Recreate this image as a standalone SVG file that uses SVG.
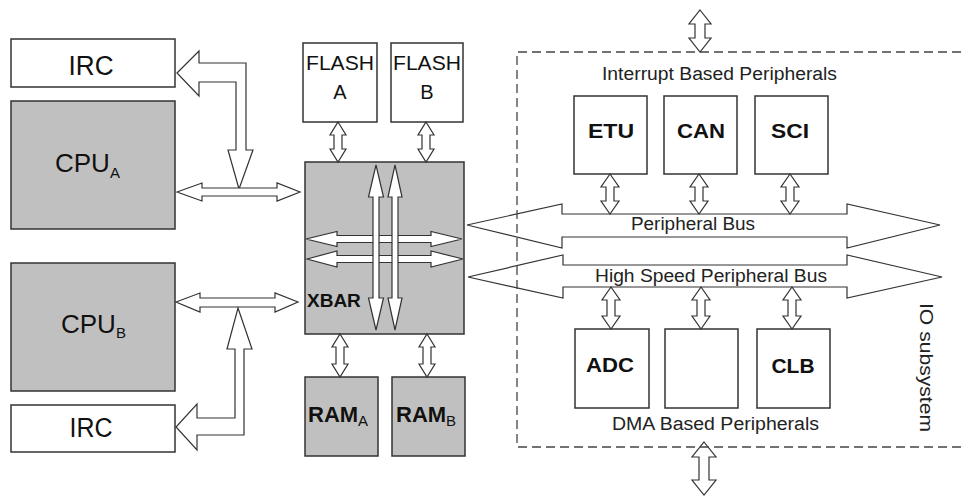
<svg xmlns="http://www.w3.org/2000/svg" width="961" height="498" viewBox="0 0 961 498">
<style>
  .w { fill: #ffffff; stroke: #333333; stroke-width: 1.5; }
  .g { fill: #c0c0c0; stroke: #333333; stroke-width: 1.5; }
  .arr { fill: #ffffff; stroke: #333333; stroke-width: 1.2; stroke-linejoin: miter; }
  .bus { fill: none; stroke: #333333; stroke-width: 1.2; }
  .dash { fill: none; stroke: #444444; stroke-width: 1.3; stroke-dasharray: 9 5; }
  text { font-family: "Liberation Sans", Arial, sans-serif; fill: #111111; }
  .big { font-size: 27px; }
  .cpu { font-size: 26px; }
  .sub { font-size: 15px; font-weight: normal; }
  .fl { font-size: 20px; }
  .bold { font-size: 21px; font-weight: bold; }
  .ram { font-size: 22px; font-weight: bold; }
  .xb { font-size: 19px; font-weight: bold; }
  .lbl { font-size: 18px; fill: #222222; }
</style>

<g id="irc-top">
  <rect class="w" x="11" y="39" width="164" height="48"/>
  <text class="big" x="91" y="75" text-anchor="middle" textLength="45" lengthAdjust="spacingAndGlyphs">IRC</text>
</g>
<g id="cpu-a">
  <rect class="g" x="11" y="101" width="164" height="128"/>
  <text class="cpu" x="55" y="172">CPU<tspan class="sub" dy="6">A</tspan></text>
</g>
<g id="cpu-b">
  <rect class="g" x="11" y="263" width="164" height="128"/>
  <text class="cpu" x="61" y="333">CPU<tspan class="sub" dy="5">B</tspan></text>
</g>
<g id="irc-bottom">
  <rect class="w" x="11" y="405" width="164" height="47"/>
  <text class="big" x="91" y="437" text-anchor="middle" textLength="43" lengthAdjust="spacingAndGlyphs">IRC</text>
</g>

<g id="flash-a">
  <rect class="w" x="303" y="43" width="74" height="79"/>
  <text class="fl" x="340" y="70" text-anchor="middle" textLength="68" lengthAdjust="spacingAndGlyphs">FLASH</text>
  <text class="fl" x="340" y="99" text-anchor="middle">A</text>
</g>
<g id="flash-b">
  <rect class="w" x="391" y="43" width="72" height="79"/>
  <text class="fl" x="427" y="70" text-anchor="middle" textLength="68" lengthAdjust="spacingAndGlyphs">FLASH</text>
  <text class="fl" x="427" y="99" text-anchor="middle">B</text>
</g>
<g id="xbar">
  <rect class="g" x="305" y="162" width="159" height="172"/>
  <text class="xb" x="307" y="307">XBAR</text>
</g>
<g id="ram-a">
  <rect class="g" x="305" y="377" width="73" height="79"/>
  <text class="ram" x="308" y="422">RAM<tspan class="sub" dy="4">A</tspan></text>
</g>
<g id="ram-b">
  <rect class="g" x="392" y="377" width="73" height="79"/>
  <text class="ram" x="396" y="422">RAM<tspan class="sub" dy="4">B</tspan></text>
</g>

<g id="io-labels">
  <text class="lbl" x="602" y="80" textLength="235" lengthAdjust="spacingAndGlyphs">Interrupt Based Peripherals</text>
  <text class="lbl" x="612" y="430" textLength="207" lengthAdjust="spacingAndGlyphs">DMA Based Peripherals</text>
  <text class="lbl" transform="translate(920,303) rotate(90)" font-size="21" textLength="129" lengthAdjust="spacingAndGlyphs">IO subsystem</text>
</g>
<g id="etu">
  <rect class="w" x="574" y="96" width="73" height="78"/>
  <text class="bold" x="611" y="138" text-anchor="middle" textLength="46" lengthAdjust="spacingAndGlyphs">ETU</text>
</g>
<g id="can">
  <rect class="w" x="664" y="96" width="73" height="78"/>
  <text class="bold" x="701" y="138" text-anchor="middle" textLength="48" lengthAdjust="spacingAndGlyphs">CAN</text>
</g>
<g id="sci">
  <rect class="w" x="755" y="96" width="73" height="78"/>
  <text class="bold" x="790" y="138" text-anchor="middle" textLength="38" lengthAdjust="spacingAndGlyphs">SCI</text>
</g>
<g id="adc">
  <rect class="w" x="575" y="329" width="74" height="79"/>
  <text class="bold" x="610" y="372" text-anchor="middle" textLength="48" lengthAdjust="spacingAndGlyphs">ADC</text>
</g>
<g id="blank">
  <rect class="w" x="665" y="329" width="73" height="79"/>
</g>
<g id="clb">
  <rect class="w" x="757" y="329" width="73" height="79"/>
  <text class="bold" x="793" y="373" text-anchor="middle" textLength="43" lengthAdjust="spacingAndGlyphs">CLB</text>
</g>

<g id="connectors">
  <!-- IRC top to CPU_A bus -->
  <polygon class="arr" points="177,73 199,51 199,63 246,63 246,150 253,150 239,189 228,150 236,150 236,82 199,82 199,96"/>
  <!-- CPU_A <-> XBAR -->
  <polygon class="arr" points="177,192 202,183 202,188 277,188 277,183 300,192 277,201 277,196 202,196 202,201"/>
  <!-- CPU_B <-> XBAR -->
  <polygon class="arr" points="176,302 200,293 200,298 275,298 275,293 298,302 275,312 275,307 200,307 200,312"/>
  <!-- IRC bottom to CPU_B bus -->
  <polygon class="arr" points="238,308 252,349 244,349 244,435 197,435 197,450 176,427 197,404 197,418 235,418 235,349 227,349"/>

  <!-- FLASH / RAM small arrows -->
  <polygon class="arr" points="338,122 346,135 342,135 342,149 346,149 338,162 330,149 334,149 334,135 330,135"/>
  <polygon class="arr" points="426,122 434,135 430,135 430,149 434,149 426,162 418,149 422,149 422,135 418,135"/>
  <polygon class="arr" points="340,334 348,347 344,347 344,364 348,364 340,377 332,364 336,364 336,347 332,347"/>
  <polygon class="arr" points="427,334 435,347 431,347 431,364 435,364 427,377 419,364 423,364 423,347 419,347"/>

  <!-- XBAR internal arrows: horizontal -->
  <polygon class="arr" points="306,239 337,231.5 337,235.5 431,235.5 431,231.5 462,239 431,246.5 431,242.5 337,242.5 337,246.5"/>
  <polygon class="arr" points="307,259 337,251 337,255.5 431,255.5 431,251 463,259 431,267 431,262.5 337,262.5 337,267"/>
  <!-- XBAR internal arrows: vertical -->
  <polygon class="arr" points="376,165 383.5,197 379,197 379,298 383.5,298 376,330 368.5,298 373,298 373,197 368.5,197"/>
  <polygon class="arr" points="395,165 402,197 398,197 398,298 402,298 395,330 388,298 392,298 392,197 388,197"/>

  <!-- peripheral small arrows -->
  <polygon class="arr" points="610,174 619,187 614,187 614,201 619,201 610,214 601,201 606,201 606,187 601,187"/>
  <polygon class="arr" points="699,174 708,187 703,187 703,201 708,201 699,214 690,201 695,201 695,187 690,187"/>
  <polygon class="arr" points="790,174 799,187 794,187 794,201 799,201 790,214 781,201 786,201 786,187 781,187"/>
  <polygon class="arr" points="611,287 620,300 615,300 615,316 620,316 611,329 602,316 607,316 607,300 602,300"/>
  <polygon class="arr" points="701,287 710,300 705,300 705,316 710,316 701,329 692,316 697,316 697,300 692,300"/>
  <polygon class="arr" points="792,287 801,300 796,300 796,316 801,316 792,329 783,316 788,316 788,300 783,300"/>

  <!-- external arrows -->
  <polygon class="arr" points="700,10 711,24 705,24 705,38 711,38 700,52 689,38 695,38 695,24 689,24"/>
  <polygon class="arr" points="704,442 716,457 709,457 709,480 716,480 704,495 692,480 699,480 699,457 692,457"/>

  <!-- buses -->
  <polygon class="bus" points="467,225 562,204 562,214 847,214 847,204 940,225 847,248 847,237 562,237 562,248"/>
  <polygon class="bus" points="468,277 563,255 563,265 847,265 847,255 942,277 847,298 847,287 563,287 563,298"/>
  <text class="lbl" x="631" y="230" textLength="124" lengthAdjust="spacingAndGlyphs">Peripheral Bus</text>
  <text class="lbl" x="595" y="282" textLength="232" lengthAdjust="spacingAndGlyphs">High Speed Peripheral Bus</text>
</g>

<g id="io-subsystem-frame">
  <polyline class="dash" points="961,52 517,52 517,447 961,447"/>
</g>
</svg>
